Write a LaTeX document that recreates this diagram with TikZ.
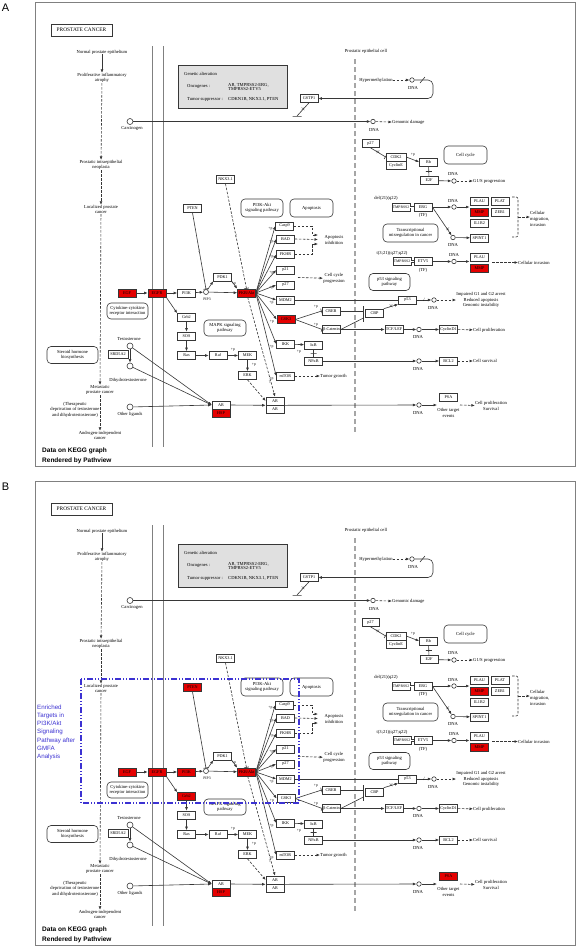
\documentclass[tikz,border=0pt]{standalone}
\usepackage{fontspec}
\setmainfont{Liberation Serif}
\setsansfont{Liberation Sans}
\usetikzlibrary{arrows.meta,calc}
\tikzset{>={Latex[length=3.5pt,width=2.8pt]}}
\definecolor{hotred}{RGB}{228,0,0}
\definecolor{gline}{RGB}{55,55,55}
\definecolor{enrich}{RGB}{60,50,210}
\newcommand{\kf}{\fontsize{4.6}{5.6}\selectfont}
\newcommand{\gf}{\fontsize{4.2}{4.6}\selectfont}
\tikzset{
  gene/.style={draw=gline, fill=white, line width=0.6pt, minimum width=18pt, minimum height=8pt, inner sep=0pt, font=\gf},
  hot/.style={fill=hotred},
  pway/.style={draw=gline, rounded corners=4pt, line width=0.6pt, align=center, inner sep=0pt, font=\kf},
  cpd/.style={circle, draw=gline, fill=white, line width=0.6pt, minimum size=6pt, inner sep=0pt},
  dna/.style={circle, draw=gline, fill=white, line width=0.6pt, minimum size=4.5pt, inner sep=0pt},
  txt/.style={font=\kf, align=center, inner sep=0pt},
  lnk/.style={draw=gline, line width=0.6pt},
  ind/.style={lnk, dash pattern=on 2.5pt off 1.5pt},
  inh/.style={lnk, -{Bar[width=5pt]}},
  hbar/.style={draw=gline, line width=0.6pt, inner sep=0pt, minimum width=6pt, minimum height=0pt},
  xm/.style={inner sep=0pt, font=\fontsize{5}{5}\selectfont},
  pp/.style={font=\fontsize{3.8}{4}\selectfont, inner sep=0pt},
}

\newcommand{\keggmap}{%
  % frame, membranes
  \draw[gray, line width=0.8pt] (35,2) rectangle (575,466);
  \node[draw=gline, line width=0.7pt, minimum width=61pt, minimum height=12pt, inner sep=0pt, font=\fontsize{5.4}{6}\selectfont] (title) at (81.5,30) {PROSTATE CANCER};
  \draw[gray, line width=1pt] (152,46) -- (152,447);
  \draw[gray, line width=1pt] (163,46) -- (163,447);
  \draw[gray!70, line width=1.6pt, dash pattern=on 5pt off 3pt] (355,59) -- (355,433);
  \node[txt] (cell) at (366,51) {Prostatic epithelial cell};
  % progression
  \node[txt] (norm) at (102,52) {Normal prostate epithelium};
  \node[txt] (atro) at (102,78) {Proliferative inflammatory\\atrophy};
  \node[txt] (pin) at (101,165) {Prostatic intraepithelial\\neoplasia};
  \node[txt] (loc) at (101,209.5) {Localized prostate\\cancer};
  \node[txt] (meta) at (100,390) {Metastatic\\prostate cancer};
  \node[txt] (ther) at (75,409.5) {(Therapeutic\\deprivation of testosterone\\and dihydrotestosterone)};
  \node[txt] (aic) at (100,435.5) {Androgen-independent\\cancer};
  \draw[lnk,->] (norm) -- (atro);
  \draw[ind,->] (atro) -- (pin);
  \draw[ind,->] (pin) -- (loc);
  \draw[ind,->] (loc) -- (meta);
  \draw[ind,->] (meta) -- (aic);
  % genetic alteration
  \node[draw=gline, fill=black!12, line width=0.8pt, minimum width=109pt, minimum height=43pt, inner sep=0pt] (galt) at (232.5,86.5) {};
  \node[txt, anchor=west] (galt1) at (184,74) {Genetic alteration};
  \node[txt, anchor=west] (onco) at (187,86) {Oncogenes :};
  \node[txt, anchor=west, align=left, font=\fontsize{4.6}{4.4}\selectfont] (oncol) at (228,87) {AR, TMPRSS2-ERG,\\TMPRSS2-ETV5};
  \node[txt, anchor=west] (tsup) at (187,99) {Tumor suppressor :};
  \node[txt, anchor=west] (tsupl) at (228,99) {CDKN1B, NKX3.1, PTEN};
  % carcinogen, GSTP1
  \node[cpd] (carc) at (130,121.5) {};
  \node[txt] (carcl) at (132,128.5) {Carcinogen};
  \node[dna] (dna1) at (373,121.5) {};
  \node[txt] (dna1l) at (374,129.5) {DNA};
  \node[txt, anchor=west] (gdam) at (392,122.5) {Genomic damage};
  \draw[lnk,->] (carc) -- (dna1);
  \draw[ind,->] (dna1) -- (gdam);
  \node[gene] (gstp1) at (309,98.5) {GSTP1};
  \node[txt] (hyper) at (376,80) {Hypermethylation};
  \node[dna] (dna2) at (412,80) {};
  \node[txt] (dna2l) at (413,88) {DNA};
  \draw[ind,->] (hyper) -- (dna2);
  \draw[lnk,->,rounded corners=5pt] (dna2.east) -- (433,80) -- (433,98.5) -- (gstp1.east);
  \draw[lnk] (420,83) -- (425,77);
  \coordinate (gsinh) at (297,116);
  \draw[lnk] (gstp1.south) -- node[xm]{$\times$} (gsinh);
  \node[hbar, minimum width=9pt] (gsbar) at (gsinh) {};
  % cell cycle
  \node[gene, minimum width=17pt] (p27a) at (370.5,143.5) {p27};
  \node[gene, minimum width=20pt] (cdk2) at (396,157) {CDK2};
  \node[gene, minimum width=20pt] (cyce) at (396,165) {CyclinE};
  \draw[inh] (p27a.south) -- node[xm]{$\times$} (cdk2.west);
  \node[gene] (rb) at (428.5,162) {Rb};
  \node[gene] (e2f) at (429,180.5) {E2F};
  \draw[lnk,->] (cdk2.east) -- (rb.west);
  \node[pp] (prb) at (413,155) {+p};
  \draw[lnk] (rb) -- node[hbar]{} (e2f);
  \node[pway, minimum width=43pt, minimum height=18pt] (ccyc) at (465.5,155) {Cell cycle};
  \node[dna] (dna3) at (454,181) {};
  \node[txt] (dna3l) at (453,174) {DNA};
  \node[txt, anchor=west] (g1s) at (473,181) {G1/S progression};
  \draw[lnk,->] (e2f) -- (dna3);
  \draw[ind,->] (dna3) -- (g1s);
  % TMPRSS2-ERG
  \node[txt] (del21) at (386,198) {del(21)(q22)};
  \node[gene, font=\fontsize{3.8}{4}\selectfont] (tmp1) at (401,207) {TMPRSS2};
  \node[gene] (erg) at (423,207) {ERG};
  \draw[lnk, double distance=1pt] (tmp1) -- (erg);
  \node[txt] (tf1) at (423,215) {(TF)};
  \node[dna] (dna4) at (454,207) {};
  \node[txt] (dna4l) at (453,200.5) {DNA};
  \draw[lnk,->] (erg) -- (dna4);
  \node[gene] (plau) at (479.5,201) {PLAU};
  \node[gene] (plat) at (500,201) {PLAT};
  \node[gene, hl-mmp/.try] (mmp) at (479.5,212) {MMP};
  \node[gene] (zeb1) at (500,212) {ZEB1};
  \node[gene] (il1r2) at (479.5,223) {IL1R2};
  \coordinate (grp1) at (469.5,207);
  \draw[lnk,->] (dna4) -- (grp1);
  \node[dna] (dna5) at (453,237.5) {};
  \node[txt] (dna5l) at (453,245) {DNA};
  \node[gene] (spint1) at (479.5,238) {SPINT1};
  \draw[lnk,->] (erg.east) -- node[xm, pos=0.8]{$\times$} (dna5);
  \draw[lnk,->] (dna5) -- (spint1);
  \draw[ind, rounded corners=2pt] (512,197) -- (518,197) -- (518,237) -- (512,237);
  \coordinate (brk) at (518,217);
  \node[txt, anchor=west, align=left] (cmig) at (530,219) {Cellular\\migration,\\invasion};
  \draw[ind,->] (brk) -- (cmig.west |- brk);
  \node[pway, minimum width=55pt, minimum height=18pt] (tmis) at (410.5,233) {Transcriptional\\misregulation in cancer};
  % TMPRSS2-ETV5
  \node[txt] (t321) at (392,253) {t(3;21)(q27;q22)};
  \node[gene, font=\fontsize{3.8}{4}\selectfont] (tmp2) at (402,261.5) {TMPRSS2};
  \node[gene] (etv5) at (423,261.5) {ETV5};
  \draw[lnk, double distance=1pt] (tmp2) -- (etv5);
  \node[txt] (tf2) at (423,270) {(TF)};
  \node[dna] (dna6) at (454,261.5) {};
  \node[txt] (dna6l) at (454,255) {DNA};
  \draw[lnk,->] (etv5) -- (dna6);
  \node[gene] (plau2) at (479.5,257) {PLAU};
  \node[gene, hl-mmp/.try] (mmp2) at (479.5,268) {MMP};
  \coordinate (grp2) at (469.5,261.5);
  \draw[lnk,->] (dna6) -- (grp2);
  \coordinate (grp2e) at (492,262.5);
  \node[txt, anchor=west] (cinv) at (518,262.5) {Cellular invasion};
  \draw[ind,->] (grp2e) -- (cinv);
  % p53
  \node[pway, minimum width=41pt, minimum height=17pt] (p53path) at (389.5,282) {p53 signaling\\pathway};
  \node[gene] (p53) at (407.5,300) {p53};
  \node[gene] (mdm2) at (285.5,300) {MDM2};
  \draw[inh] (mdm2) -- (p53);
  \node[gene] (cbp) at (374.5,313) {CBP};
  \draw[lnk,->] (cbp.north east) -- node[xm]{$\times$} (p53.south west);
  \node[dna] (dna7) at (434,300) {};
  \node[txt] (dna7l) at (433,308) {DNA};
  \draw[lnk,->] (p53) -- node[xm]{/} (dna7);
  \node[txt] (imp) at (481,300) {Impaired G1 and G2 arrest\\Reduced apoptosis\\Genomic instability};
  \draw[ind,->] (dna7) -- (imp);
  % Wnt targets
  \node[gene] (tcf) at (394,329.5) {TCF/LEF};
  \node[dna] (dna8) at (419,329.5) {};
  \node[txt] (dna8l) at (418,337) {DNA};
  \node[gene] (ccnd1) at (448.5,329.5) {CyclinD1};
  \node[txt, anchor=west] (cprol) at (473,330) {Cell proliferation};
  \draw[lnk,->] (tcf) -- (dna8);
  \draw[lnk,->] (dna8) -- (ccnd1);
  \draw[ind,->] (ccnd1) -- (cprol);
  \node[dna] (dna9) at (419,361) {};
  \node[txt] (dna9l) at (418,368.5) {DNA};
  \node[gene] (bcl2) at (448.5,361) {BCL2};
  \node[txt, anchor=west] (csurv) at (473,361) {Cell survival};
  \draw[lnk,->] (dna9) -- (bcl2);
  \draw[ind,->] (bcl2) -- (csurv);
  \node[dna] (dna10) at (419,405) {};
  \node[txt] (dna10l) at (418,413) {DNA};
  \node[gene, hl-psa/.try] (psa) at (448.5,397) {PSA};
  \node[txt] (ote) at (448.5,413) {Other target\\events};
  \coordinate (otein) at (437,405);
  \coordinate (oteout) at (460,405);
  \node[txt] (cpsurv) at (491,406) {Cell proliferation\\Survival};
  \draw[lnk,->] (dna10) -- (otein);
  \draw[ind,->] (oteout) -- (cpsurv);
  % PI3K-Akt
  \node[gene, hl-pten/.try] (pten) at (192.5,208.5) {PTEN};
  \node[gene] (nkx) at (225.5,179.5) {NKX3.1};
  \node[pway, minimum width=42pt, minimum height=18pt] (pi3kpath) at (262,208) {PI3K-Akt\\signaling pathway};
  \node[pway, minimum width=43pt, minimum height=18pt] (apop) at (311.5,208) {Apoptosis};
  \node[gene, hl-egf/.try] (egf) at (127,293) {EGF};
  \node[gene, hl-egfr/.try] (egfr) at (157,293) {EGFR};
  \node[gene, hl-pi3k/.try] (pi3k) at (186.5,293) {PI3K};
  \node[cpd, minimum size=5pt] (pip3) at (206,292) {};
  \node[pp] (pip3l) at (207,299.5) {PIP3};
  \node[gene] (pdk1) at (222.5,277) {PDK1};
  \node[gene, hl-akt/.try] (akt) at (246.5,293) {PKB/Akt};
  \draw[lnk,->] (egf) -- (egfr);
  \draw[lnk,->] (egfr) -- (pi3k);
  \draw[lnk,->] (pi3k) -- (pip3);
  \draw[lnk,->] (pip3) -- (pdk1.south west);
  \draw[lnk,->] (pip3) -- (akt);
  \draw[lnk,->] (pdk1.south east) -- (akt.north west);
  \node[pp] (ppdk) at (234,284) {+p};
  \draw[inh] (pten.south) -- node[xm]{/} (pip3.north);
  \draw[ind,-{Bar[width=5pt]}] (nkx.south) -- node[xm]{/} (akt.north);
  % MAPK
  \node[gene, hl-grb2/.try] (grb2) at (186.5,317.5) {Grb2};
  \node[gene] (sos) at (186.5,336) {SOS};
  \node[gene] (ras) at (186.5,355.5) {Ras};
  \node[gene] (raf) at (218,355.5) {Raf};
  \node[gene] (mek) at (247.5,355.5) {MEK};
  \node[gene] (erk) at (247.5,375.5) {ERK};
  \node[pway, minimum width=42pt, minimum height=16pt] (mapk) at (225,328) {MAPK signaling\\pathway};
  \node[pway, minimum width=41pt, minimum height=16pt] (cyto) at (127.5,311) {Cytokine-cytokine\\receptor interaction};
  \draw[lnk,->] (egfr.south east) -- (grb2.north west);
  \draw[lnk,->] (grb2) -- (sos);
  \draw[lnk,->] (sos) -- (ras);
  \draw[lnk,->] (ras) -- (raf);
  \draw[lnk,->] (raf) -- (mek);
  \node[pp] (pmek) at (233,350) {+p};
  \draw[lnk,->] (mek) -- (erk);
  \node[pp] (perk) at (254,365) {+p};
  % Akt targets
  \node[gene] (casp9) at (284.5,226) {Casp9};
  \node[gene] (bad) at (285.5,239) {BAD};
  \node[gene] (fkhr) at (285.5,254.5) {FKHR};
  \node[gene] (p21) at (285.5,270) {p21};
  \node[gene] (p27b) at (285.5,285) {p27};
  \node[gene, hl-gsk3/.try] (gsk3) at (286,319.5) {GSK3};
  \node[gene] (ikk) at (285.5,344) {IKK};
  \node[gene] (mtor) at (285.5,376) {mTOR};
  \foreach \t in {casp9,bad,fkhr,p21,p27b,mdm2,gsk3,ikk,mtor}{
    \draw[lnk,->] (akt.east) -- (\t.west);
    \node[pp, anchor=east] at ($(\t.west)+(-2.5,2.5)$) {+p};
  }
  \node[txt] (apinh) at (334,240) {Apoptosis\\inhibition};
  \coordinate (ai1) at (318,235);
  \coordinate (ai2) at (318,239.5);
  \coordinate (ai3) at (318,244);
  \draw[ind,->] (casp9.east) -- (312,226) -- (312,235) -- (ai1);
  \draw[ind,->] (bad.east) -- (ai2);
  \draw[ind,->] (fkhr.east) -- (312,254.5) -- (312,244) -- (ai3);
  \node[txt] (ccprog) at (334,278.5) {Cell cycle\\progression};
  \coordinate (cc1) at (298,277.5);
  \draw[ind,->] (cc1) -- (ccprog);
  \node[gene] (creb) at (331,311) {CREB};
  \node[gene] (bcat) at (331.5,329.5) {β-Catenin};
  \draw[inh] (gsk3.east) -- (creb.west);
  \draw[inh] (gsk3.east) -- (bcat.west);
  \node[pp] (pcreb) at (316,307) {+p};
  \node[pp] (pbcat) at (316,325) {+p};
  \coordinate (cbpin) at (363.5,318);
  \draw[lnk] (creb.east) -- (creb.east -| cbpin);
  \draw[lnk] (bcat.east) -- (cbpin);
  \draw[lnk] (363.5,306) -- (363.5,322);
  \draw[lnk,->] (bcat.east) -- (tcf.west);
  \node[gene] (ikb) at (313.5,345) {IκB};
  \node[gene] (nfkb) at (313.5,361) {NFκB};
  \draw[lnk,->] (ikk) -- (ikb);
  \node[pp] (pikb) at (299,352) {+p};
  \draw[lnk] (ikb) -- node[hbar]{} (nfkb);
  \draw[lnk,->] (nfkb) -- (dna9);
  \node[txt, anchor=west] (tgrow) at (320,376) {Tumor growth};
  \draw[ind,->] (mtor) -- (tgrow);
  % androgen receptor
  \node[gene] (ar1) at (275,401) {AR};
  \node[gene] (ar2) at (275,409) {AR};
  \node[gene] (ar3) at (221,405) {AR};
  \node[gene, hl-hsp/.try] (hsp) at (221,413) {HSP};
  \draw[ind,->] (akt) -- node[pp, left, pos=0.85]{?} (ar1.north);
  \draw[ind,->] (erk.south) -- (ar1.west);
  \draw[lnk,->] (ar3.east) -- (ar1.south west);
  \draw[lnk,->] (ar1.south east) -- (dna10.west);
  \node[cpd] (testo) at (130,346) {};
  \node[txt] (testol) at (129,339) {Testosterone};
  \node[gene, minimum width=20pt] (srd) at (118,354.5) {SRD5A2};
  \node[cpd] (dht) at (130,366) {};
  \node[txt] (dhtl) at (128,380) {Dihydrotestosterone};
  \node[cpd] (oth) at (130,407) {};
  \node[txt] (othl) at (130,414.5) {Other ligands};
  \draw[lnk,->] (testo) -- (dht);
  \draw[lnk,->] (testo) -- (ar3.west);
  \draw[lnk,->] (dht) -- (ar3.west);
  \draw[lnk,->] (oth) -- (ar3.west);
  \node[pway, minimum width=51pt, minimum height=17pt] (ster) at (72.5,355) {Steroid hormone\\biosynthesis};
  % pathview
  \node[anchor=west, inner sep=0pt, font=\fontsize{6.5}{7}\sffamily\bfseries] (pv1) at (42,451) {Data on KEGG graph};
  \node[anchor=west, inner sep=0pt, font=\fontsize{6.5}{7}\sffamily\bfseries] (pv2) at (42,461) {Rendered by Pathview};
}

\begin{document}
\begin{tikzpicture}[x=1pt, y=-1pt]
  \useasboundingbox[fill=white] (0,0) rectangle (580,946);
  % panel A
  \node[inner sep=0pt, font=\fontsize{11}{11}\sffamily] (lblA) at (5.5,8) {A};
  \begin{scope}[hl-egf/.style=hot, hl-egfr/.style=hot, hl-akt/.style=hot, hl-gsk3/.style=hot, hl-hsp/.style=hot, hl-mmp/.style=hot]
    \keggmap
  \end{scope}
  % panel B
  \node[inner sep=0pt, font=\fontsize{11}{11}\sffamily] (lblB) at (5.5,487) {B};
  \begin{scope}[shift={(0,479)}, hl-egf/.style=hot, hl-egfr/.style=hot, hl-pi3k/.style=hot, hl-pten/.style=hot, hl-grb2/.style=hot, hl-akt/.style=hot, hl-hsp/.style=hot, hl-mmp/.style=hot, hl-psa/.style=hot]
    \keggmap
    \draw[enrich, line width=1.2pt, dash pattern=on 6pt off 2pt on 1pt off 2pt on 1pt off 2pt] (81,200) rectangle (299,324);
    \node[anchor=north west, align=left, text=enrich, inner sep=0pt, font=\fontsize{6.2}{8.2}\selectfont\sffamily] (enr) at (37,225.5) {Enriched\\Targets in\\PI3K/Akt\\Signaling\\Pathway after\\GMFA\\Analysis};
  \end{scope}
\end{tikzpicture}
\end{document}
